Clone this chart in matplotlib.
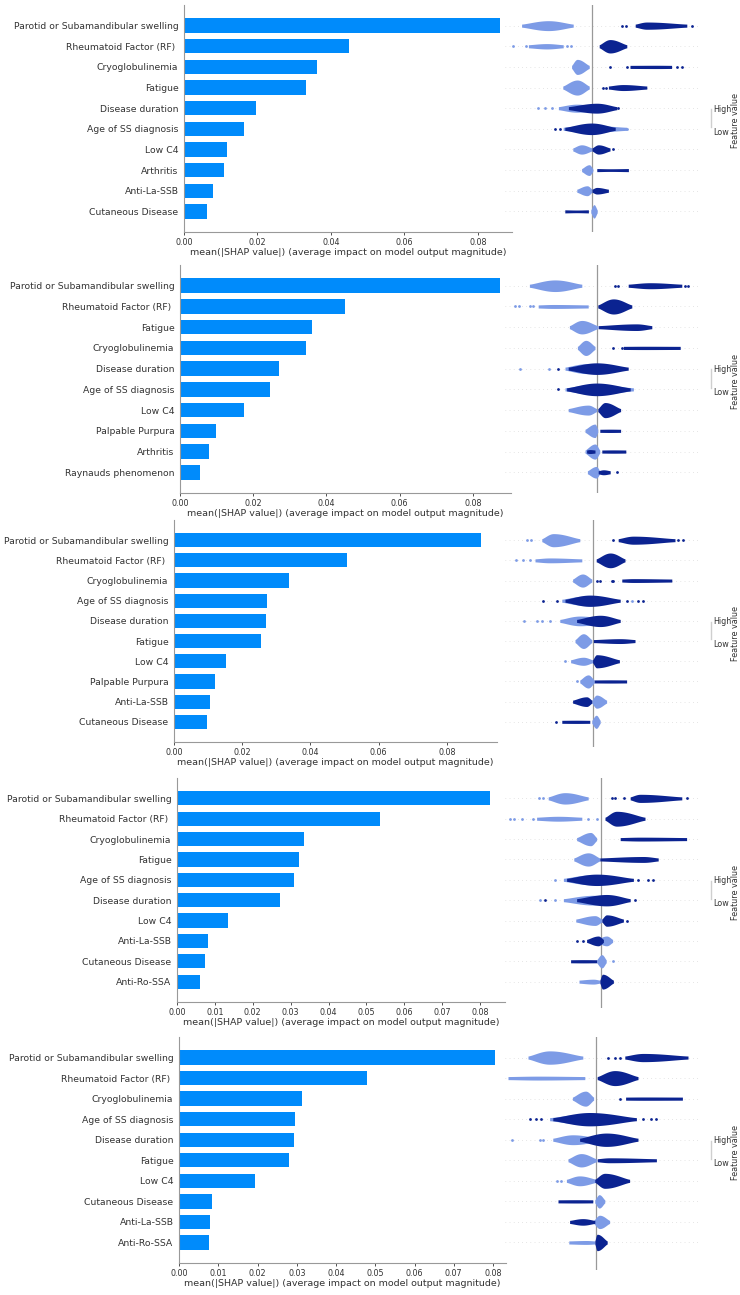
import numpy as np
import matplotlib
matplotlib.use("Agg")
import matplotlib.pyplot as plt
import matplotlib.transforms as mtransforms

# ---- data: mean(|SHAP|) per feature, 5 models ----
features_1 = ["Parotid or Subamandibular swelling", "Rheumatoid Factor (RF) ", "Cryoglobulinemia",
              "Fatigue", "Disease duration", "Age of SS diagnosis", "Low C4", "Arthritis",
              "Anti-La-SSB", "Cutaneous Disease"]
importance_1 = [0.0860, 0.0449, 0.0363, 0.0331, 0.0197, 0.0162, 0.0118, 0.0108, 0.0080, 0.0062]

features_2 = ["Parotid or Subamandibular swelling", "Rheumatoid Factor (RF) ", "Fatigue",
              "Cryoglobulinemia", "Disease duration", "Age of SS diagnosis", "Low C4",
              "Palpable Purpura", "Arthritis", "Raynauds phenomenon"]
importance_2 = [0.0874, 0.0450, 0.0360, 0.0343, 0.0271, 0.0246, 0.0176, 0.0098, 0.0080, 0.0055]

features_3 = ["Parotid or Subamandibular swelling", "Rheumatoid Factor (RF) ", "Cryoglobulinemia",
              "Age of SS diagnosis", "Disease duration", "Fatigue", "Low C4", "Palpable Purpura",
              "Anti-La-SSB", "Cutaneous Disease"]
importance_3 = [0.0901, 0.0506, 0.0337, 0.0273, 0.0269, 0.0255, 0.0152, 0.0120, 0.0105, 0.0096]

features_4 = ["Parotid or Subamandibular swelling", "Rheumatoid Factor (RF) ", "Cryoglobulinemia",
              "Fatigue", "Age of SS diagnosis", "Disease duration", "Low C4", "Anti-La-SSB",
              "Cutaneous Disease", "Anti-Ro-SSA"]
importance_4 = [0.0826, 0.0537, 0.0336, 0.0323, 0.0308, 0.0273, 0.0134, 0.0081, 0.0074, 0.0062]

features_5 = ["Parotid or Subamandibular swelling", "Rheumatoid Factor (RF) ", "Cryoglobulinemia",
              "Age of SS diagnosis", "Disease duration", "Fatigue", "Low C4", "Cutaneous Disease",
              "Anti-La-SSB", "Anti-Ro-SSA"]
importance_5 = [0.0804, 0.0478, 0.0313, 0.0296, 0.0293, 0.0280, 0.0194, 0.0083, 0.0079, 0.0077]

# beeswarm summaries: (row, feature level, start, densest, end, density)
swarm_1 = [(0, "low", -0.176, -0.109, -0.047, 0.48), (0, "high", 0.108, 0.137, 0.237, 0.35),
           (1, "low", -0.159, -0.113, -0.072, 0.26), (1, "high", 0.018, 0.045, 0.087, 0.65),
           (2, "low", -0.051, -0.037, -0.007, 0.73), (2, "high", 0.095, 0.162, 0.199, 0.16),
           (3, "low", -0.073, -0.037, -0.007, 0.73), (3, "high", 0.041, 0.078, 0.137, 0.29),
           (4, "low", -0.084, -0.038, 0.020, 0.39), (4, "high", -0.059, 0.012, 0.062, 0.48),
           (5, "low", -0.072, -0.013, 0.087, 0.35), (5, "high", -0.068, -0.001, 0.058, 0.56),
           (6, "low", -0.048, -0.026, 0.0, 0.45), (6, "high", 0.0, 0.016, 0.045, 0.45),
           (7, "low", -0.026, -0.007, 0.002, 0.52), (7, "high", 0.012, 0.045, 0.091, 0.13),
           (8, "low", -0.038, -0.012, 0.0, 0.48), (8, "high", 0.0, 0.012, 0.041, 0.32),
           (9, "high", -0.068, -0.038, -0.009, 0.13), (9, "low", -0.003, 0.005, 0.013, 0.65)]
# isolated points: (row, feature level, shap value)
outliers_1 = [(0, "high", 0.074), (0, "high", 0.085), (0, "high", 0.249),
              (1, "low", -0.197), (1, "low", -0.165), (1, "low", -0.063), (1, "low", -0.053),
              (2, "high", 0.045), (2, "high", 0.087), (2, "high", 0.212), (2, "high", 0.224),
              (3, "high", 0.027), (3, "high", 0.035),
              (4, "low", -0.134), (4, "low", -0.118), (4, "low", -0.101), (4, "high", 0.066),
              (5, "high", -0.093), (5, "high", -0.080), (5, "low", 0.074), (5, "low", 0.087),
              (6, "high", 0.053)]

swarm_2 = [(0, "low", -0.169, -0.105, -0.038, 0.56), (0, "high", 0.078, 0.133, 0.212, 0.29),
           (1, "low", -0.147, -0.109, -0.022, 0.19), (1, "high", 0.002, 0.041, 0.087, 0.73),
           (2, "low", -0.069, -0.038, 0.002, 0.65), (2, "high", 0.003, 0.099, 0.137, 0.32),
           (3, "low", -0.049, -0.028, -0.005, 0.73), (3, "high", 0.066, 0.116, 0.208, 0.16),
           (4, "low", -0.080, -0.026, 0.033, 0.48), (4, "high", -0.072, -0.001, 0.078, 0.56),
           (5, "low", -0.080, -0.009, 0.091, 0.48), (5, "high", -0.076, -0.001, 0.083, 0.61),
           (6, "low", -0.072, -0.022, -0.001, 0.48), (6, "high", 0.002, 0.020, 0.059, 0.73),
           (7, "low", -0.030, -0.005, 0.002, 0.65), (7, "high", 0.007, 0.033, 0.059, 0.16),
           (8, "low", -0.030, -0.005, 0.007, 0.73), (8, "high", -0.026, -0.018, -0.005, 0.19),
           (8, "high", 0.012, 0.041, 0.072, 0.16),
           (9, "low", -0.024, -0.002, 0.007, 0.56), (9, "high", 0.003, 0.016, 0.033, 0.24)]
outliers_2 = [(0, "high", 0.045), (0, "high", 0.053), (0, "high", 0.220), (0, "high", 0.228),
              (1, "low", -0.205), (1, "low", -0.194), (1, "low", -0.168), (1, "low", -0.159),
              (3, "high", 0.041), (3, "high", 0.062),
              (4, "low", -0.193), (4, "low", -0.119), (4, "high", -0.097),
              (5, "high", -0.097), (9, "high", 0.049)]

swarm_3 = [(0, "low", -0.128, -0.099, -0.033, 0.65), (0, "high", 0.063, 0.101, 0.205, 0.40),
           (1, "low", -0.145, -0.108, -0.028, 0.24), (1, "high", 0.008, 0.043, 0.080, 0.73),
           (2, "low", -0.051, -0.026, -0.003, 0.65), (2, "high", 0.072, 0.101, 0.197, 0.19),
           (3, "low", -0.078, -0.024, 0.059, 0.45), (3, "high", -0.070, -0.008, 0.068, 0.56),
           (4, "low", -0.083, -0.033, 0.043, 0.48), (4, "high", -0.041, 0.018, 0.068, 0.56),
           (5, "low", -0.045, -0.024, -0.003, 0.73), (5, "high", 0.001, 0.068, 0.105, 0.24),
           (6, "low", -0.056, -0.024, -0.001, 0.40), (6, "high", -0.001, 0.009, 0.066, 0.65),
           (7, "low", -0.033, -0.012, 0.003, 0.65), (7, "high", 0.003, 0.043, 0.084, 0.16),
           (8, "high", -0.051, -0.016, -0.003, 0.48), (8, "low", -0.003, 0.009, 0.034, 0.65),
           (9, "high", -0.078, -0.041, -0.008, 0.16), (9, "low", -0.003, 0.008, 0.018, 0.65)]
outliers_3 = [(0, "low", -0.166), (0, "low", -0.156), (0, "high", 0.051), (0, "high", 0.213),
              (0, "high", 0.224),
              (1, "low", -0.193), (1, "low", -0.174), (1, "low", -0.158),
              (2, "high", 0.009), (2, "high", 0.018), (2, "high", 0.047), (2, "high", 0.051),
              (3, "high", -0.124), (3, "high", -0.091), (3, "high", 0.084), (3, "low", 0.097),
              (3, "high", 0.113), (3, "high", 0.126),
              (4, "low", -0.173), (4, "low", -0.141), (4, "low", -0.128), (4, "low", -0.108),
              (6, "low", -0.070), (7, "low", -0.041), (9, "high", -0.093)]

swarm_4 = [(0, "low", -0.132, -0.090, -0.032, 0.56), (0, "high", 0.073, 0.098, 0.202, 0.40),
           (1, "low", -0.161, -0.107, -0.048, 0.24), (1, "high", 0.010, 0.039, 0.110, 0.73),
           (2, "low", -0.061, -0.026, -0.011, 0.65), (2, "high", 0.048, 0.098, 0.214, 0.19),
           (3, "low", -0.068, -0.032, -0.003, 0.65), (3, "high", -0.003, 0.106, 0.143, 0.29),
           (4, "low", -0.094, -0.027, 0.014, 0.48), (4, "high", -0.086, -0.011, 0.081, 0.56),
           (5, "low", -0.094, -0.019, 0.023, 0.48), (5, "high", -0.061, 0.014, 0.073, 0.56),
           (6, "low", -0.063, -0.015, 0.002, 0.48), (6, "high", 0.002, 0.014, 0.056, 0.56),
           (7, "high", -0.036, -0.007, 0.006, 0.48), (7, "low", -0.011, 0.014, 0.029, 0.48),
           (8, "high", -0.076, -0.044, -0.011, 0.16), (8, "low", -0.011, 0.002, 0.013, 0.65),
           (9, "low", -0.055, -0.019, -0.003, 0.24), (9, "high", -0.003, 0.004, 0.031, 0.73)]
outliers_4 = [(0, "low", -0.154), (0, "low", -0.146), (0, "high", 0.027), (0, "high", 0.035),
              (0, "high", 0.058), (0, "high", 0.214),
              (1, "low", -0.228), (1, "low", -0.218), (1, "low", -0.198), (1, "low", -0.169),
              (1, "low", -0.032), (1, "low", -0.011),
              (4, "low", -0.115), (4, "high", 0.093), (4, "high", 0.118), (4, "high", 0.131),
              (5, "low", -0.153), (5, "high", -0.140), (5, "low", -0.115), (5, "high", 0.085),
              (6, "high", 0.066), (7, "high", -0.059), (7, "high", -0.044), (8, "low", 0.029)]

swarm_5 = [(0, "low", -0.170, -0.116, -0.033, 0.65), (0, "high", 0.072, 0.118, 0.230, 0.40),
           (1, "low", -0.220, -0.145, -0.028, 0.19), (1, "high", 0.003, 0.047, 0.105, 0.73),
           (2, "low", -0.059, -0.026, -0.006, 0.73), (2, "high", 0.074, 0.118, 0.216, 0.16),
           (3, "low", -0.116, -0.033, 0.076, 0.48), (3, "high", -0.108, -0.016, 0.101, 0.65),
           (4, "low", -0.108, -0.058, 0.009, 0.48), (4, "high", -0.041, 0.026, 0.105, 0.65),
           (5, "low", -0.070, -0.037, 0.001, 0.65), (5, "high", 0.003, 0.034, 0.151, 0.24),
           (6, "low", -0.074, -0.041, 0.001, 0.48), (6, "high", -0.003, 0.022, 0.084, 0.73),
           (7, "high", -0.095, -0.049, -0.008, 0.16), (7, "low", -0.003, 0.008, 0.022, 0.65),
           (8, "high", -0.066, -0.033, -0.003, 0.32), (8, "low", -0.006, 0.009, 0.034, 0.65),
           (9, "low", -0.068, -0.024, -0.003, 0.19), (9, "high", -0.003, 0.003, 0.028, 0.80)]
outliers_5 = [(0, "high", 0.030), (0, "high", 0.047), (0, "high", 0.059), (2, "high", 0.061),
              (3, "high", -0.166), (3, "high", -0.149), (3, "high", -0.137),
              (3, "high", 0.118), (3, "high", 0.138), (3, "high", 0.149),
              (4, "low", -0.209), (4, "low", -0.141), (4, "low", -0.133),
              (6, "low", -0.098), (6, "low", -0.087)]

# ---- layout (pixels of the 740x1295 picture) ----
W, H = 740, 1295
bar_box = [(184, 512, 5, 232), (180, 511, 265, 493), (174, 497, 520, 742),
           (177, 505, 778, 1002), (179, 506, 1037, 1263)]
bar_xmax = [0.0893, 0.0904, 0.0947, 0.0866, 0.0833]
tick_step = [0.02, 0.02, 0.02, 0.01, 0.01]
zero_px = [592, 597, 593, 601, 596]
vline_bottom = [232, 493, 747, 1008, 1270]
px_per_unit = 400.0

bar_color = "#008bfb"
colors = {"low": "#7d9be6", "high": "#0b2391"}
txt = "#333333"

panels = [(features_1, importance_1, swarm_1, outliers_1),
          (features_2, importance_2, swarm_2, outliers_2),
          (features_3, importance_3, swarm_3, outliers_3),
          (features_4, importance_4, swarm_4, outliers_4),
          (features_5, importance_5, swarm_5, outliers_5)]

fig = plt.figure(figsize=(W / 100, H / 100), dpi=100)
fig.patch.set_facecolor("white")


def rect(x0, x1, ytop, ybot):
    return [x0 / W, 1 - ybot / H, (x1 - x0) / W, (ybot - ytop) / H]


def blob(ax, y, start, peak, end, dens, color):
    xs = np.linspace(start, end, 80)
    t = np.where(xs <= peak,
                 (xs - start) / max(peak - start, 1e-6),
                 (end - xs) / max(end - peak, 1e-6))
    t = np.clip(t, 0, 1)
    hmin = 0.075
    h = hmin + (dens / 2 - hmin) * np.sin(t * np.pi / 2) ** 1.3
    ax.fill_between(xs, y - h, y + h, color=color, lw=0, zorder=3)


for k, (feats, imp, swarm, outl) in enumerate(panels):
    n = len(feats)
    ypos = np.arange(n)[::-1]
    x0, x1, ytop, ybot = bar_box[k]

    # left: bar chart
    ax = fig.add_axes(rect(x0, x1, ytop, ybot))
    ax.barh(ypos, imp, height=0.7, color=bar_color)
    ax.set_ylim(-1, n)
    ax.set_xlim(0, bar_xmax[k])
    ax.set_yticks(ypos)
    ax.set_yticklabels(feats, fontsize=6.7, color=txt)
    ax.set_xticks(np.arange(0, bar_xmax[k], tick_step[k]))
    ax.xaxis.set_major_formatter(plt.FormatStrFormatter("%.2f"))
    ax.tick_params(axis="x", labelsize=5.8, colors=txt, length=2, width=0.6, pad=2)
    ax.tick_params(axis="y", length=0, pad=4)
    for s in ["top", "right"]:
        ax.spines[s].set_visible(False)
    for s in ["left", "bottom"]:
        ax.spines[s].set_color("#999999")
        ax.spines[s].set_linewidth(0.8)
    ax.set_xlabel("mean(|SHAP value|) (average impact on model output magnitude)",
                  fontsize=6.8, color=txt, labelpad=1)
    ax.patch.set_alpha(0)

    # right: beeswarm summary
    sp = (ybot - ytop) / (n + 1)
    rx0, rx1 = 505, 700
    ax2 = fig.add_axes(rect(rx0, rx1, ytop, vline_bottom[k]))
    ax2.set_ylim(-1 - (vline_bottom[k] - ybot) / sp, n)
    z = zero_px[k]
    ax2.set_xlim((rx0 - z) / px_per_unit, (rx1 - z) / px_per_unit)
    ax2.axis("off")
    ax2.patch.set_alpha(0)
    for y in ypos:
        ax2.axhline(y, color="#cccccc", lw=0.5, dashes=(1, 5), zorder=-1)
    ax2.axvline(0, color="#999999", lw=0.9, zorder=1)
    for level in ["low", "high"]:
        for (r, lv, a, p, b, d) in swarm:
            if lv == level:
                blob(ax2, ypos[r], a, p, b, d, colors[lv])
        pts = [(ypos[r], x) for (r, lv, x) in outl if lv == level]
        if pts:
            ys, xs = zip(*pts)
            ax2.scatter(xs, ys, s=4, color=colors[level], lw=0, zorder=4)

    # colour bar legend
    tr = mtransforms.blended_transform_factory(fig.transFigure, ax2.transData)
    yc = (n - 1) / 2
    ax2.plot([711 / W, 711 / W], [yc + 0.46, yc - 0.42], transform=tr, color="#cfcfcf",
             lw=1.0, clip_on=False)
    ax2.text(713 / W, yc + 0.46, "High", transform=tr, fontsize=5.8, color=txt,
             va="center", ha="left")
    ax2.text(713 / W, yc - 0.66, "Low", transform=tr, fontsize=5.8, color=txt,
             va="center", ha="left")
    ax2.text(735 / W, yc - 0.12, "Feature value", transform=tr, fontsize=5.8, color=txt,
             va="center", ha="center", rotation=90)

fig.savefig("out.png", dpi=100)
